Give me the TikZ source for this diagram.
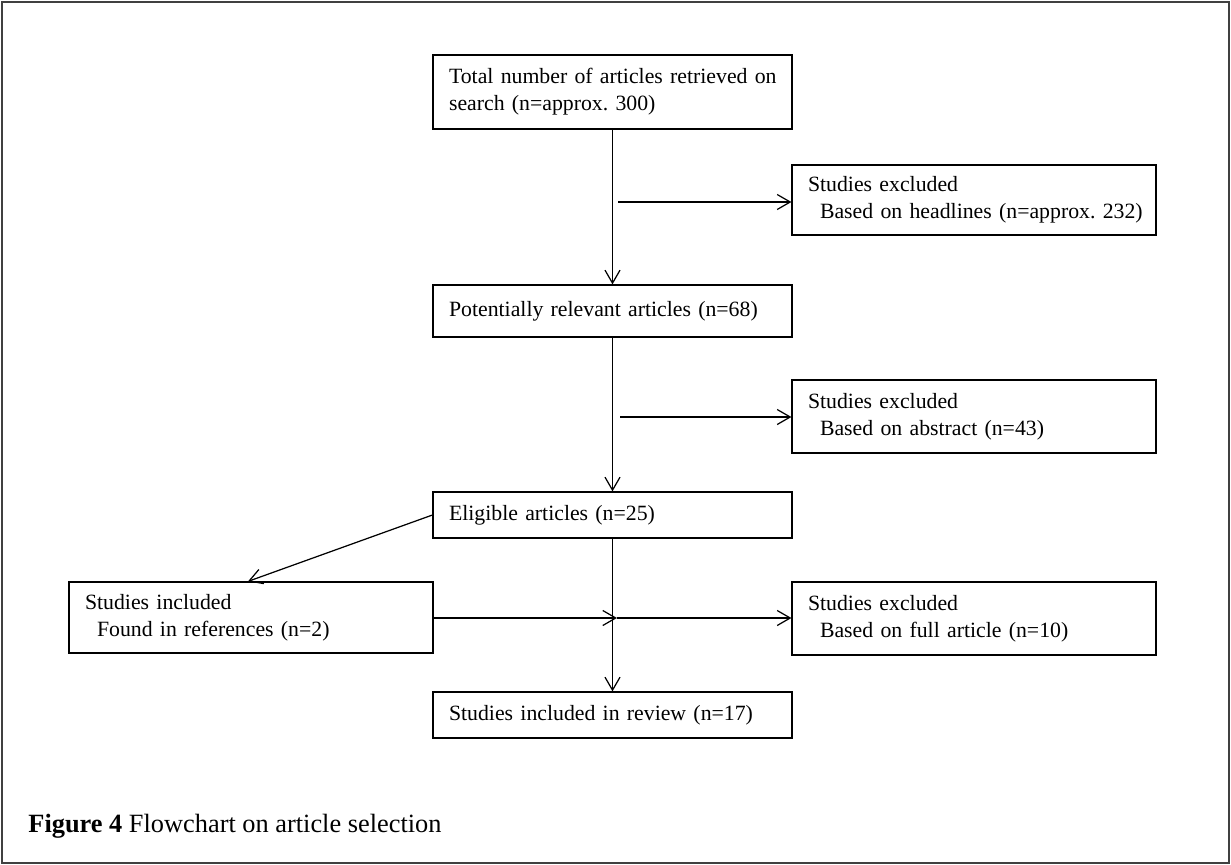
\documentclass[tikz,border=0pt]{standalone}
\usepackage{fontspec}
\setmainfont{Liberation Serif}
\usetikzlibrary{arrows.meta}

\begin{document}
\begin{tikzpicture}[x=0.02cm,y=-0.02cm,>={Straight Barb[length=0.26cm,width=0.3cm]},
  line width=0.7pt]
\tikzstyle{every node}=[draw,shape=rectangle,font=\fontsize{12.4}{15.5}\selectfont,
  minimum width=7.18cm,text width=6.54cm,inner xsep=0.32cm,align=left];
\tikzstyle{side}=[minimum width=7.28cm,text width=6.64cm];
\useasboundingbox (0,0) rectangle (1231,865);
\draw[line width=1.6pt,black!75] (2,2) rectangle (1229,863);
\node[minimum height=1.48cm] (v0) at (612.5,92) {\mbox{Total number of articles retrieved on}\\search (n=approx.\ 300)};
\node[side,minimum height=1.4cm] (ex1) at (974,200) {Studies excluded\\\mbox{\hspace*{0.24cm}Based on headlines (n=approx.\ 232)}};
\node[minimum height=1.04cm] (v1) at (612.5,311) {Potentially relevant articles (n=68)};
\node[side,minimum height=1.46cm] (ex2) at (974,416.5) {Studies excluded\\\hspace*{0.24cm}Based on abstract (n=43)};
\node[minimum height=0.92cm] (v2) at (612.5,515) {Eligible articles (n=25)};
\node[side,minimum height=1.42cm] (inc) at (251,617.5) {Studies included\\\hspace*{0.24cm}Found in references (n=2)};
\node[side,minimum height=1.46cm] (ex3) at (974,618.5) {Studies excluded\\\hspace*{0.24cm}Based on full article (n=10)};
\node[minimum height=0.92cm] (v3) at (612.5,715) {Studies included in review (n=17)};
\tikzstyle{every node}=[];
\coordinate (j1) at (618,202);
\coordinate (j2) at (620,417);
\coordinate (j3) at (617,618);
\draw [->] (v0) -- (v1);
\draw [->] (j1) -- (j1 -| ex1.west);
\draw [->] (v1) -- (v2);
\draw [->] (j2) -- (j2 -| ex2.west);
\draw [->] (v2.west) -- (inc.north -| 248,0);
\draw [->] (inc.east |- j3) -- (j3);
\draw [->] (j3) -- (j3 -| ex3.west);
\draw [->] (v2) -- (v3);
\node[anchor=base west,font=\fontsize{15}{18}\selectfont] (cap) at (22,832) {\textbf{Figure 4} Flowchart on article selection};
\end{tikzpicture}
\end{document}
